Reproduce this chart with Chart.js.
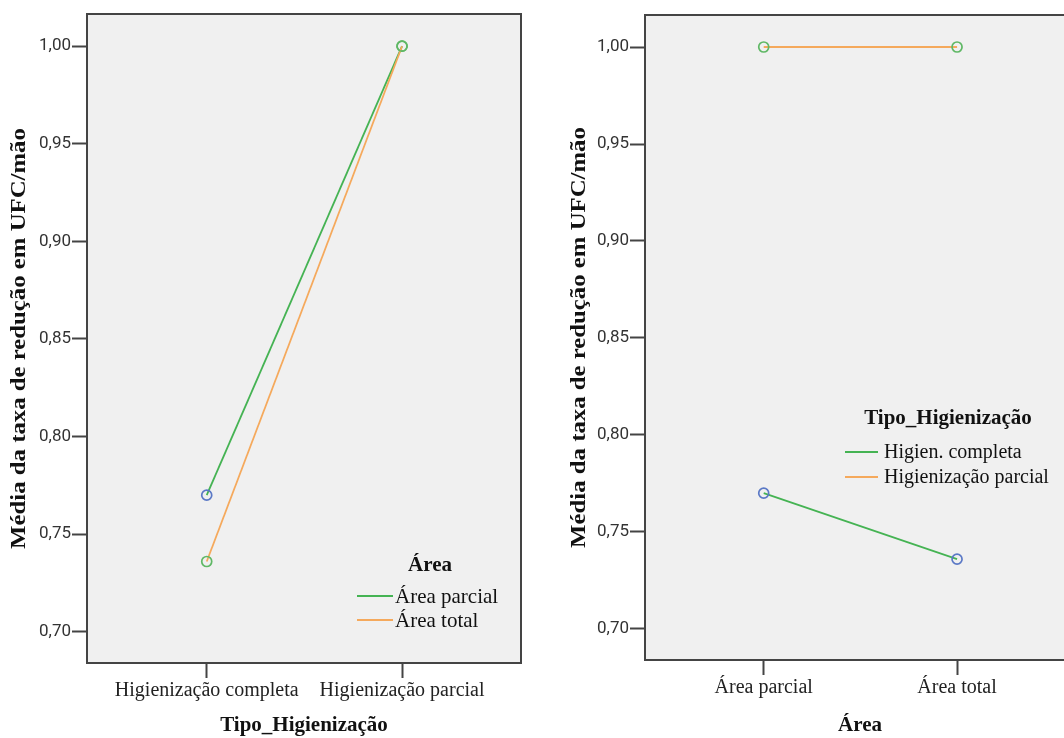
<!DOCTYPE html>
<html>
<head>
<meta charset="utf-8">
<script src="https://cdn.jsdelivr.net/npm/chart.js@4"></script>
<style>
  html, body { margin: 0; padding: 0; background: #fff; width: 1064px; height: 738px; overflow: hidden; }
  #left { position: absolute; left: 0; top: 0; }
  #right { position: absolute; left: 540px; top: 0; }
</style>
</head>
<body>
<canvas id="left" width="540" height="738"></canvas>
<canvas id="right" width="545" height="738"></canvas>
<script>
// valores
const yTitle = 'Média da taxa de redução em UFC/mão';
const yTicks = [0.70, 0.75, 0.80, 0.85, 0.90, 0.95, 1.00];

const tiposHigienizacao = ['Higienização completa', 'Higienização parcial'];
const areaNames = ['Área parcial', 'Área total'];
const areaParcial = [0.770, 1.000];
const areaTotal = [0.736, 1.000];

const areas = ['Área parcial', 'Área total'];
const tipoNames = ['Higien. completa', 'Higienização parcial'];
const higienCompleta = [0.770, 0.736];
const higienParcial = [1.000, 1.000];

const GREEN = '#45b353';
const ORANGE = '#f5a95c';
const MARK_BLUE = '#5b79c6';
const MARK_GREEN = '#5fb865';
const SERIF = '"Liberation Serif", "DejaVu Serif", serif';

const toPoints = (vals) => vals.map((v, i) => ({ x: i, y: v }));

// fundo cinza, moldura, título do eixo y (esticado) e legenda dentro da área
const framePlugin = {
  id: 'frame',
  beforeDraw(chart) {
    const { ctx, chartArea: a } = chart;
    ctx.save();
    ctx.fillStyle = '#f0f0f0';
    ctx.fillRect(a.left, a.top, a.right - a.left, a.bottom - a.top);
    ctx.restore();
  },
  afterDraw(chart, args, opts) {
    const { ctx, chartArea: a } = chart;
    ctx.save();
    ctx.strokeStyle = '#444';
    ctx.lineWidth = 2;
    ctx.strokeRect(a.left, a.top, a.right - a.left, a.bottom - a.top);

    // título do eixo y
    ctx.save();
    ctx.translate(opts.yTitleX, (a.top + a.bottom) / 2);
    ctx.rotate(-Math.PI / 2);
    ctx.scale(1.18, 1);
    ctx.fillStyle = '#111';
    ctx.font = 'bold 21px ' + SERIF;
    ctx.textAlign = 'center';
    ctx.textBaseline = 'middle';
    ctx.fillText(yTitle, 0, 0);
    ctx.restore();

    // legenda
    ctx.fillStyle = '#111';
    ctx.textBaseline = 'middle';
    ctx.textAlign = 'center';
    ctx.font = 'bold 21px ' + SERIF;
    ctx.fillText(opts.title, opts.titleX, opts.titleY);
    ctx.font = opts.fontSize + 'px ' + SERIF;
    ctx.textAlign = 'left';
    chart.data.datasets.forEach((ds, i) => {
      const y = opts.rowY + i * opts.rowGap;
      ctx.strokeStyle = ds.borderColor;
      ctx.lineWidth = 2;
      ctx.beginPath();
      ctx.moveTo(opts.lineX0, y);
      ctx.lineTo(opts.lineX1, y);
      ctx.stroke();
      ctx.fillText(ds.label, opts.textX, y + 1);
    });
    ctx.restore();
  }
};

const makeChart = (canvasId, cats, datasets, xTitle, geo, legend) => new Chart(document.getElementById(canvasId), {
  type: 'line',
  data: { datasets },
  options: {
    responsive: false,
    animation: false,
    layout: { padding: { top: geo.top, right: geo.right, left: 0, bottom: 0 } },
    plugins: {
      legend: { display: false },
      tooltip: { enabled: false },
      frame: legend
    },
    elements: {
      line: { borderWidth: 1.8, tension: 0 },
      point: { radius: 5, borderWidth: 1.7, backgroundColor: 'rgba(0,0,0,0)', pointStyle: 'circle' }
    },
    scales: {
      x: {
        type: 'linear',
        min: geo.xMin,
        max: geo.xMax,
        afterBuildTicks: (s) => { s.ticks = cats.map((c, i) => ({ value: i })); },
        afterFit: (s) => { s.height = geo.xHeight; },
        border: { display: false },
        grid: { drawOnChartArea: false, drawTicks: true, tickLength: 15, tickColor: '#444', tickWidth: 2 },
        ticks: {
          padding: 1,
          color: '#222',
          font: { family: SERIF, size: 20 },
          maxRotation: 0,
          callback: (v) => cats[v]
        },
        title: {
          display: true,
          text: xTitle,
          color: '#111',
          font: { family: SERIF, size: 21, weight: 'bold' },
          padding: { top: 0, bottom: 0 }
        }
      },
      y: {
        min: 0.684,
        max: 1.0165,
        afterBuildTicks: (s) => { s.ticks = yTicks.map(v => ({ value: v })); },
        afterFit: (s) => { s.width = geo.yWidth; },
        border: { display: false },
        grid: { drawOnChartArea: false, drawTicks: true, tickLength: 15, tickColor: '#444', tickWidth: 2 },
        ticks: {
          padding: 1,
          color: '#333',
          font: { family: 'Roboto, "DejaVu Sans", sans-serif', size: 17 },
          callback: (v) => v.toFixed(2).replace('.', ',')
        },
        title: { display: false }
      }
    }
  },
  plugins: [framePlugin]
});

makeChart('left', tiposHigienizacao, [
  {
    label: areaNames[0],
    data: toPoints(areaParcial),
    borderColor: GREEN,
    pointBorderColor: [MARK_BLUE, MARK_GREEN],
    order: 1
  },
  {
    label: areaNames[1],
    data: toPoints(areaTotal),
    borderColor: ORANGE,
    pointBorderColor: [MARK_GREEN, MARK_GREEN],
    order: 0
  }
], 'Tipo_Higienização',
  { top: 14, right: 19, xHeight: 75, yWidth: 87, xMin: -0.613, xMax: 1.609 },
  { yTitleX: 20, title: 'Área', titleX: 430, titleY: 566, rowY: 596, rowGap: 24, lineX0: 357, lineX1: 393, textX: 395, fontSize: 21 });

makeChart('right', areas, [
  {
    label: tipoNames[0],
    data: toPoints(higienCompleta),
    borderColor: GREEN,
    pointBorderColor: [MARK_BLUE, MARK_BLUE]
  },
  {
    label: tipoNames[1],
    data: toPoints(higienParcial),
    borderColor: ORANGE,
    pointBorderColor: [MARK_GREEN, MARK_GREEN]
  }
], 'Área',
  { top: 15, right: 10, xHeight: 78, yWidth: 105, xMin: -0.614, xMax: 1.61 },
  { yTitleX: 40, title: 'Tipo_Higienização', titleX: 408, titleY: 419, rowY: 452, rowGap: 25, lineX0: 305, lineX1: 338, textX: 344, fontSize: 20 });
</script>
</body>
</html>
